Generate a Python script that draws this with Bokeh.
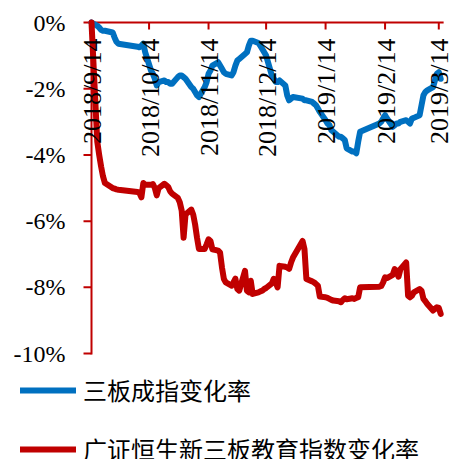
import numpy as np
import pandas as pd
from bokeh.plotting import figure
from bokeh.models import Range1d, Legend, LegendItem
from bokeh.core.properties import value
from bokeh.embed import file_html
from bokeh.resources import INLINE

dates = [
    "2018-09-14", "2018-09-17", "2018-09-18", "2018-09-19", "2018-09-20", "2018-09-21",
    "2018-09-25", "2018-09-26", "2018-09-27", "2018-09-28",
    "2018-10-08", "2018-10-09", "2018-10-10", "2018-10-11", "2018-10-12",
    "2018-10-15", "2018-10-16", "2018-10-17", "2018-10-18", "2018-10-19",
    "2018-10-22", "2018-10-23", "2018-10-24", "2018-10-25", "2018-10-26",
    "2018-10-29", "2018-10-30", "2018-10-31",
    "2018-11-01", "2018-11-02", "2018-11-05", "2018-11-06", "2018-11-07", "2018-11-08", "2018-11-09",
    "2018-11-12", "2018-11-13", "2018-11-14", "2018-11-15", "2018-11-16",
    "2018-11-19", "2018-11-20", "2018-11-21", "2018-11-22", "2018-11-23",
    "2018-11-26", "2018-11-27", "2018-11-28", "2018-11-29", "2018-11-30",
    "2018-12-03", "2018-12-04", "2018-12-05", "2018-12-06", "2018-12-07",
    "2018-12-10", "2018-12-11", "2018-12-12", "2018-12-13", "2018-12-14",
    "2018-12-17", "2018-12-18", "2018-12-19", "2018-12-20", "2018-12-21",
    "2018-12-24", "2018-12-25", "2018-12-26", "2018-12-27", "2018-12-28",
    "2019-01-02", "2019-01-03", "2019-01-04", "2019-01-07", "2019-01-08", "2019-01-09",
    "2019-01-10", "2019-01-11", "2019-01-14", "2019-01-15", "2019-01-16", "2019-01-17",
    "2019-01-18", "2019-01-21", "2019-01-22", "2019-01-23", "2019-01-24", "2019-01-25",
    "2019-01-28", "2019-01-29", "2019-01-30", "2019-01-31",
    "2019-02-01", "2019-02-11", "2019-02-12", "2019-02-13", "2019-02-14", "2019-02-15",
    "2019-02-18", "2019-02-19", "2019-02-20", "2019-02-21", "2019-02-22",
    "2019-02-25", "2019-02-26", "2019-02-27", "2019-02-28",
    "2019-03-01", "2019-03-04", "2019-03-05", "2019-03-06", "2019-03-07", "2019-03-08",
    "2019-03-11", "2019-03-12", "2019-03-13", "2019-03-14", "2019-03-15",
]

# 三板成指变化率 (%)
sanban = [
    0.00, -0.10, -0.15, -0.22, -0.25, -0.25, -0.30, -0.45, -0.58, -0.64,
    -0.73, -0.75, -0.70, -0.64, -0.90, -1.45, -1.55, -1.70, -1.90, -1.80,
    -1.75, -1.80, -1.80, -1.85, -1.85, -1.65, -1.60, -1.60,
    -1.65, -1.70, -1.95, -2.00, -2.10, -2.20, -2.25, -1.95, -1.80, -1.55,
    -1.45, -1.30, -1.20, -1.30, -1.40, -1.50, -1.55, -1.60, -1.50, -1.30,
    -1.15, -1.10,
    -0.95, -0.90, -0.70, -0.55, -0.55, -0.62, -0.70, -0.80, -0.90, -1.00,
    -1.60, -1.70, -1.80, -1.80, -1.75, -1.90, -2.20, -2.35, -2.30, -2.25,
    -2.30, -2.35, -2.35, -2.40, -2.45, -2.50, -2.60, -2.70, -2.95, -3.05,
    -3.10, -3.25, -3.30, -3.45, -3.45, -3.50, -3.55, -3.80, -3.90, -3.90,
    -3.95, -3.60,
    -3.30, -3.05, -3.00, -2.90, -2.80, -2.90, -3.15, -3.10, -3.05, -3.05,
    -3.00, -2.95, -3.00, -3.05, -2.90,
    -2.88, -2.80, -2.50, -2.20, -2.10, -2.05, -1.95, -1.75, -1.55, -1.50, -1.70,
]

# 广证恒生新三板教育指数变化率 (%)
edu = [
    0.00, -3.60, -4.00, -4.35, -4.65, -4.85, -5.00, -5.02, -5.04, -5.05,
    -5.12, -5.15, -5.28, -4.85, -4.90, -4.90, -4.88, -5.00, -5.22, -5.00,
    -4.87, -4.92, -4.97, -5.10, -5.17, -5.30, -5.43, -5.68,
    -6.50, -5.80, -5.65, -5.80, -6.10, -6.50, -6.84, -6.84, -6.70, -6.55,
    -6.60, -6.85, -6.89, -6.95, -7.40, -7.75, -7.85, -7.95, -7.85, -7.74,
    -8.05, -8.10,
    -7.50, -8.10, -8.15, -7.80, -8.20, -8.15, -8.12, -8.10, -8.05, -8.02,
    -7.88, -7.74, -7.85, -8.00, -7.35, -7.38, -7.40, -7.44, -7.25, -7.10,
    -6.60, -6.85, -7.75, -7.82, -7.85, -7.90, -7.95, -8.28, -8.30, -8.32,
    -8.35, -8.38, -8.40, -8.42, -8.45, -8.38, -8.33, -8.36, -8.33, -8.35,
    -8.32, -8.30,
    -8.00, -7.98, -7.96, -7.85, -7.70, -7.72, -7.62, -7.45, -7.50, -7.68,
    -7.45, -7.25, -8.25, -8.30, -8.25,
    -8.15, -8.05, -8.10, -8.35, -8.42, -8.50, -8.70, -8.65, -8.60, -8.62, -8.80,
]

tick_labels = ["2018/9/14", "2018/10/14", "2018/11/14", "2018/12/14",
               "2019/1/14", "2019/2/14", "2019/3/14"]
y_ticks = [-10, -8, -6, -4, -2, 0]
y_tick_labels = [f"{v}%" for v in y_ticks]
series_names = ["三板成指变化率", "广证恒生新三板教育指数变化率"]

x = pd.to_datetime(dates)
tick_dt = pd.to_datetime(tick_labels, format="%Y/%m/%d")
axis_start = tick_dt[0]
axis_end = pd.Timestamp("2019-03-16")
y_top, y_bottom = y_ticks[-1], y_ticks[0]

AXIS_RED = "#C00000"
BLUE = "#0070C0"
SERIF = "Liberation Serif"

p = figure(width=451, height=459, output_backend="svg", toolbar_location=None,
           x_axis_type=None, y_axis_type=None,
           x_range=Range1d(pd.Timestamp("2018-07-28 13:40"), pd.Timestamp("2019-03-20 15:00")),
           y_range=Range1d(-13.2, 0.665),
           min_border_left=0, min_border_right=0, min_border_top=0, min_border_bottom=0)
p.outline_line_color = None
p.background_fill_color = "white"
p.border_fill_color = "white"

# axes: date axis along the 0% line (top), value axis at the first date (left)
p.segment(x0=[axis_start, axis_start], y0=[y_top, y_bottom],
          x1=[axis_end, axis_start], y1=[y_top, y_top],
          line_color=AXIS_RED, line_width=2, line_cap="square")
p.ray(x=tick_dt, y=[y_top] * len(tick_dt), length=7, length_units="screen",
      angle=-np.pi / 2, line_color=AXIS_RED, line_width=2)
p.ray(x=[axis_start] * len(y_ticks), y=y_ticks, length=8, length_units="screen",
      angle=np.pi, line_color=AXIS_RED, line_width=2)
p.text(x=[axis_start] * len(y_ticks), y=y_ticks, text=y_tick_labels,
       text_align="right", text_baseline="middle", x_offset=-26,
       text_font=value(SERIF), text_font_size="24px", text_color="black")

r1 = p.line(x, sanban, line_color=BLUE, line_width=6, line_join="round", line_cap="round")
r2 = p.line(x, edu, line_color=AXIS_RED, line_width=6, line_join="round", line_cap="round")

p.text(x=tick_dt, y=[y_top] * len(tick_dt), text=tick_labels, angle=np.pi / 2,
       text_align="right", text_baseline="middle", x_offset=1, y_offset=16,
       text_font=value(SERIF), text_font_size="26px", text_color="black")

legend = Legend(items=[LegendItem(label=series_names[0], renderers=[r1]),
                       LegendItem(label=series_names[1], renderers=[r2])],
                location=(20, -7), orientation="vertical",
                glyph_width=56, glyph_height=32, label_height=32, spacing=24,
                label_standoff=7, padding=0, margin=0,
                border_line_color=None, background_fill_alpha=0,
                label_text_font="Noto Sans CJK SC", label_text_font_size="24px",
                label_text_color="black")
p.add_layout(legend)

open("out.html", "w").write(file_html(p, INLINE))
